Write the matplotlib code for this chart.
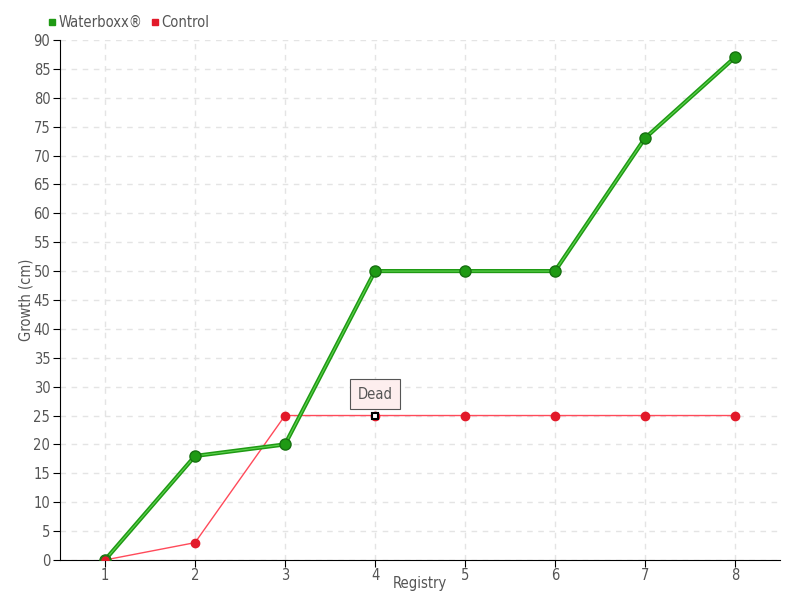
import matplotlib.pyplot as plt
from matplotlib.lines import Line2D

registry = [1, 2, 3, 4, 5, 6, 7, 8]
waterboxx = [0, 18, 20, 50, 50, 50, 73, 87]
control = [0, 3, 25, 25, 25, 25, 25, 25]

plt.rcParams['font.family'] = ['DejaVu Sans']
plt.rcParams['font.stretch'] = 'condensed'

txt = '#555555'
green = '#1f9a14'
red = '#e21a2a'
fs = 10.5

fig = plt.figure(figsize=(8, 6), dpi=100)
ax = fig.add_axes([0.075, 0.0667, 0.9, 0.8667])

# Control series
ax.plot(registry, control, color='#ff4a5a', linewidth=1, zorder=3)
ax.plot(registry, control, 'o', color=red, markersize=6, zorder=4)
# dead marker
ax.plot(registry[3], control[3], 's', color='white', markeredgecolor='black',
        markersize=5, markeredgewidth=1.5, zorder=6)

# Waterboxx series
ax.plot(registry, waterboxx, color=green, linewidth=3, zorder=5)
ax.plot(registry, waterboxx, color='#5ed34f', linewidth=0.8, zorder=5)
ax.plot(registry, waterboxx, 'o', color=green, markeredgecolor='#167010',
        markersize=8, zorder=5)
ax.plot(registry[0], control[0], 'o', color=red, markeredgecolor='#1f7a14',
        markersize=7, zorder=7)

ax.annotate('Dead', xy=(registry[3], control[3]), xytext=(0, 15.5),
            textcoords='offset points', ha='center', va='center',
            fontsize=fs, color=txt, zorder=8,
            bbox=dict(boxstyle='square,pad=0.5', fc='#fdeeee', ec='#555555', lw=0.8))

ax.set_xlim(0.5, 8.5)
ax.set_ylim(0, 90)
ax.set_xticks(registry)
ax.set_yticks(range(0, 91, 5))
ax.grid(True, color='#e4e4e4', linestyle=(0, (4, 4)), linewidth=1)
ax.set_axisbelow(True)
for s in ['top', 'right']:
    ax.spines[s].set_visible(False)
ax.tick_params(axis='both', colors='black', labelcolor=txt, labelsize=fs, length=5)
ax.tick_params(axis='y', pad=2)
ax.tick_params(axis='x', pad=1)
ax.set_xlabel('Registry', color=txt, fontsize=fs, labelpad=-5)
ax.set_ylabel('Growth (cm)', color=txt, fontsize=fs)
ax.yaxis.set_label_coords(-0.037, 0.5)

handles = [Line2D([], [], marker='s', linestyle='', color=green, markersize=4),
           Line2D([], [], marker='s', linestyle='', color=red, markersize=4)]
fig.legend(handles, ['Waterboxx®', 'Control'], loc='center left',
           bbox_to_anchor=(0.06, 0.963), ncol=2, frameon=False, fontsize=fs,
           labelcolor=txt, handlelength=0.5, handletextpad=0.2,
           columnspacing=0.6, borderpad=0, borderaxespad=0)

fig.savefig('out.png', dpi=100)
